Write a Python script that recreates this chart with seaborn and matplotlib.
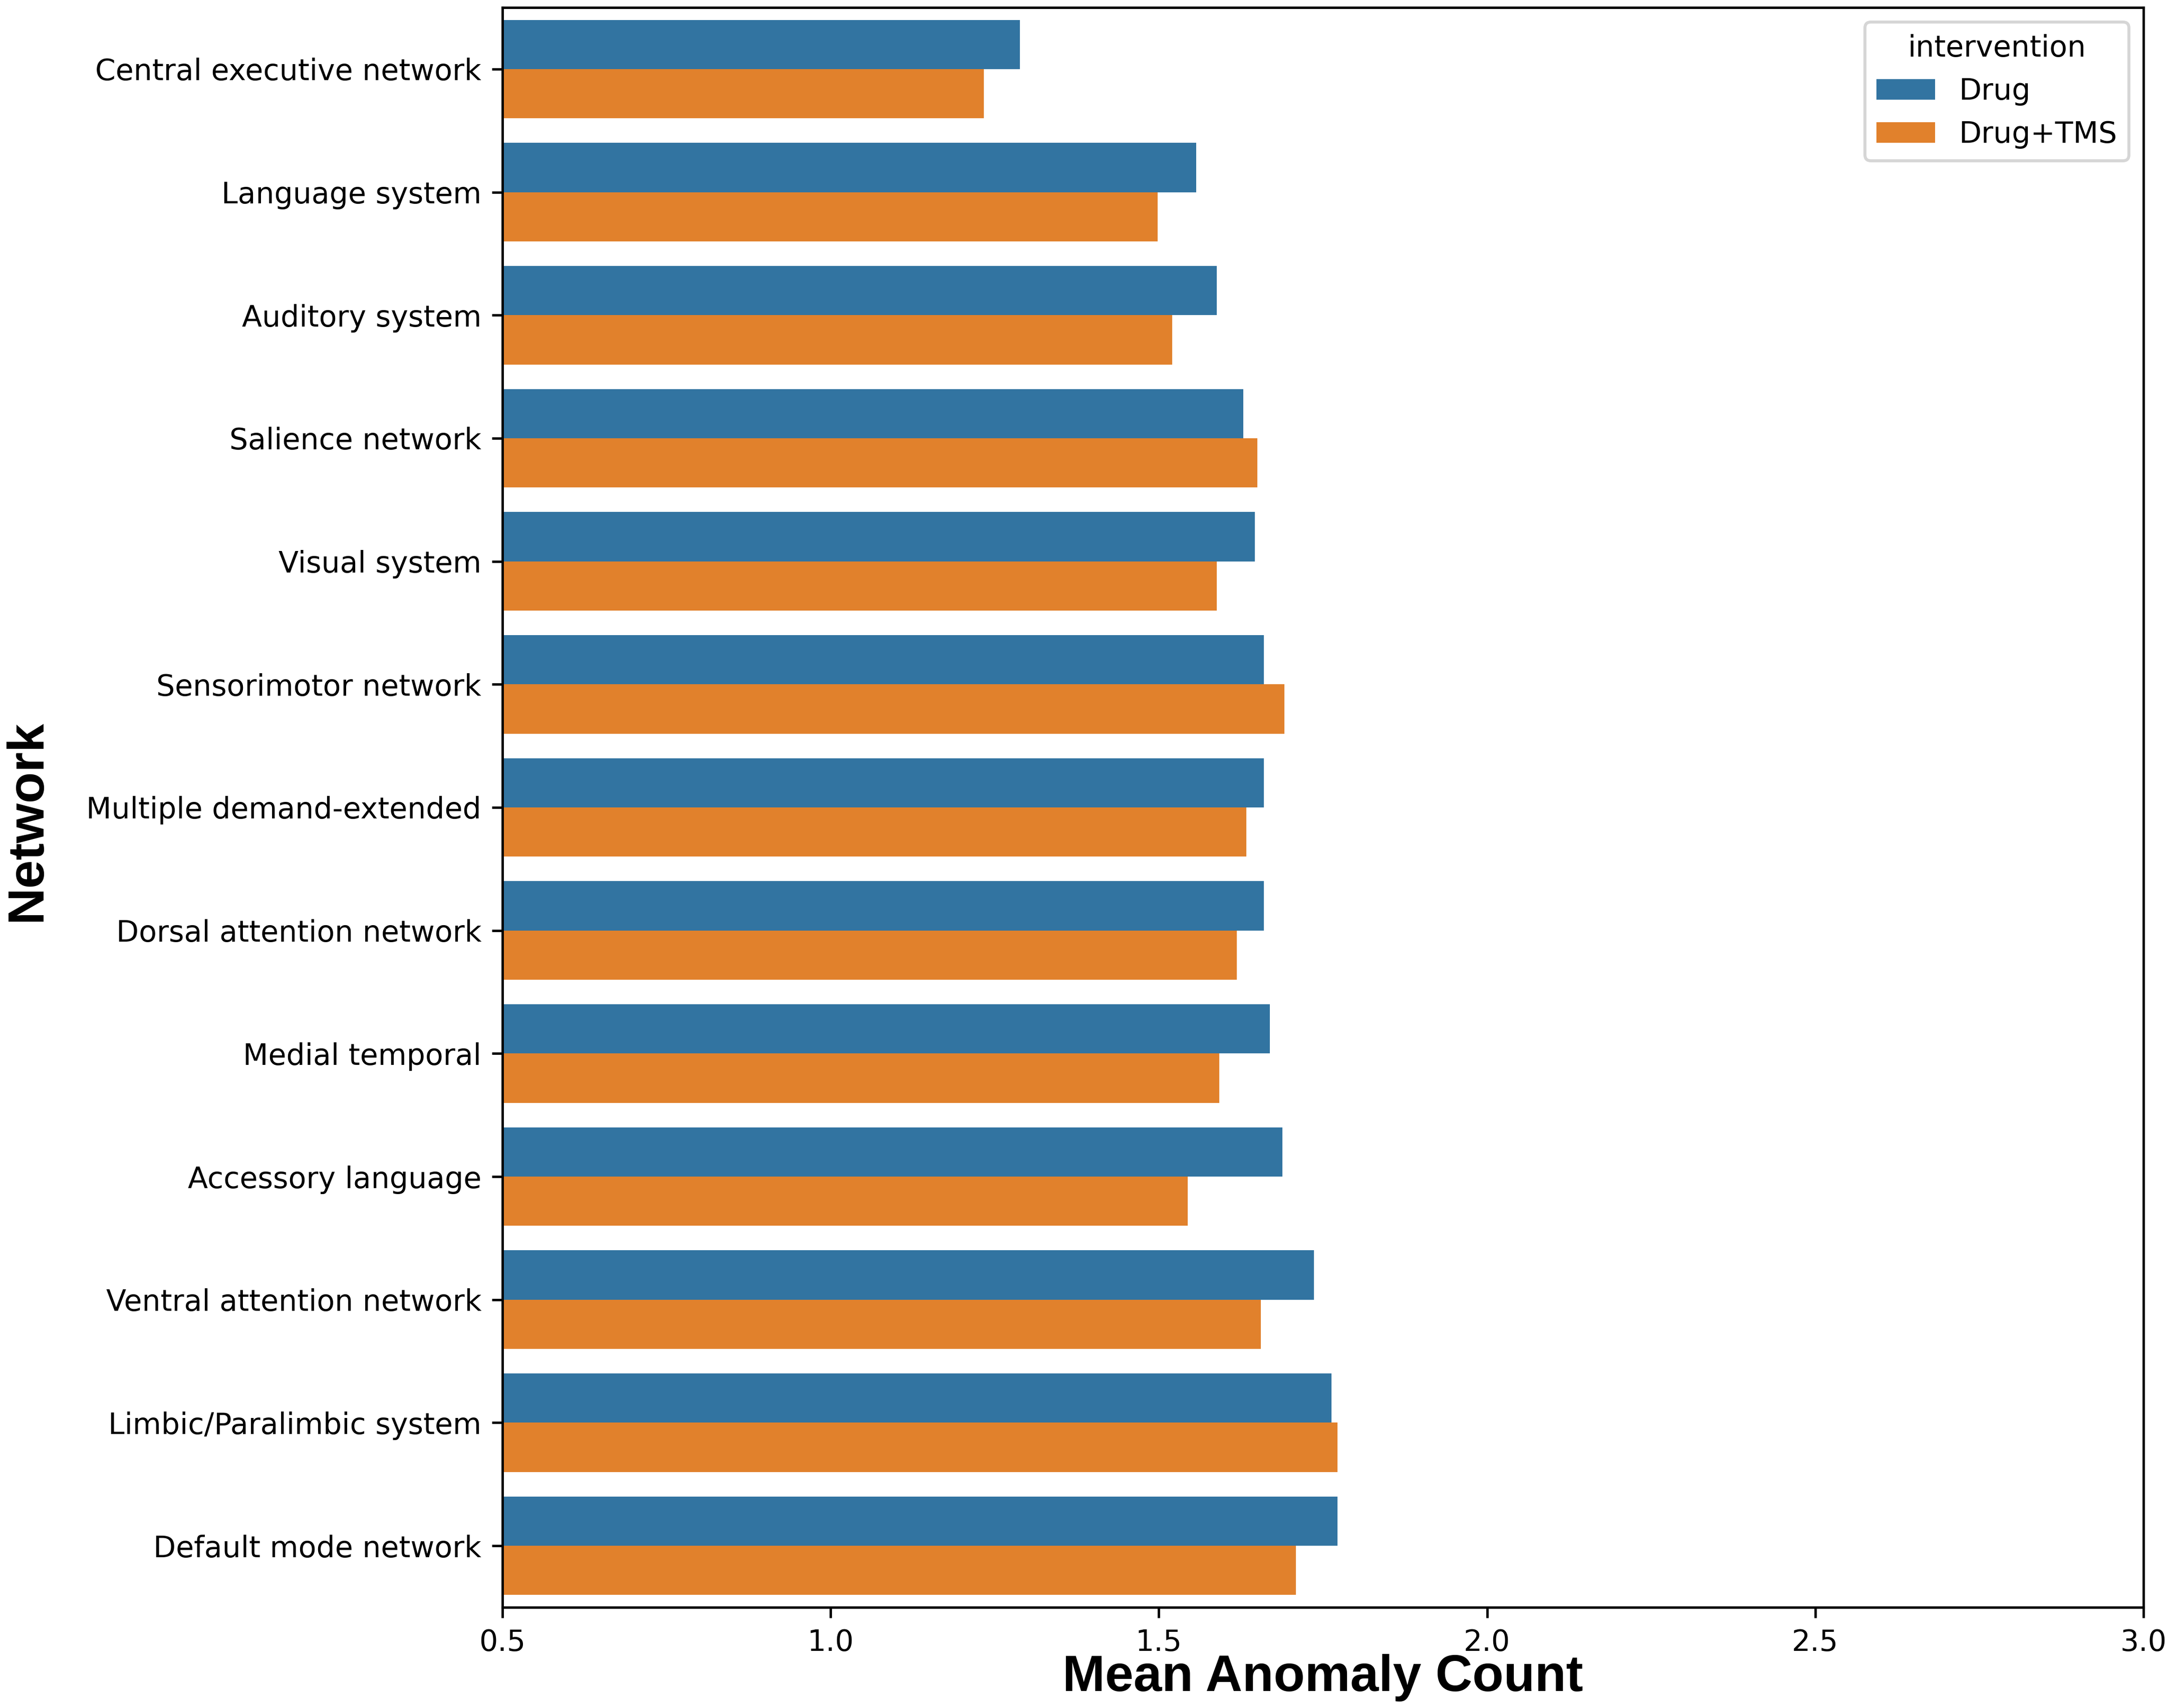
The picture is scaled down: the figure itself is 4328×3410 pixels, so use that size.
import pandas as pd
import seaborn as sns
import matplotlib
matplotlib.use('Agg')
import matplotlib.pyplot as plt

# Networks, top to bottom as shown
networks = [
    'Central executive network', 'Language system', 'Auditory system',
    'Salience network', 'Visual system', 'Sensorimotor network',
    'Multiple demand-extended', 'Dorsal attention network', 'Medial temporal',
    'Accessory language', 'Ventral attention network',
    'Limbic/Paralimbic system', 'Default mode network',
]
interventions = ['Drug', 'Drug+TMS']

# Mean anomaly count per network
drug = [1.288, 1.557, 1.588, 1.629, 1.646, 1.660, 1.660, 1.660, 1.669,
        1.688, 1.736, 1.763, 1.772]
drug_tms = [1.233, 1.498, 1.520, 1.650, 1.588, 1.691, 1.633, 1.619, 1.592,
            1.544, 1.655, 1.772, 1.709]

# Long-form table for seaborn
df = pd.DataFrame({
    'Network': networks * 2,
    'intervention': [interventions[0]] * len(networks) + [interventions[1]] * len(networks),
    'Mean Anomaly Count': drug + drug_tms,
})

plt.rcParams['font.size'] = 9.75

dpi = 432
fig, ax = plt.subplots(figsize=(4328 / dpi, 3410 / dpi), dpi=dpi)
fig.subplots_adjust(left=1003 / 4328, right=4279 / 4328,
                    top=1 - 15 / 3410, bottom=1 - 3209 / 3410)

sns.barplot(data=df, x='Mean Anomaly Count', y='Network', hue='intervention',
            order=networks, hue_order=interventions, errorbar=None,
            orient='h', ax=ax)

ax.set_xlim(0.5, 3.0)
sns.move_legend(ax, 'upper right')

label_font = dict(family='Liberation Sans', weight='bold', size=17)
ax.set_xlabel('Mean Anomaly Count', **label_font)
ax.set_ylabel('Network', **label_font)
ax.xaxis.set_label_coords(0.5, -0.029)
ax.yaxis.set_label_coords(-0.275, 0.4915)

fig.savefig('out.png', dpi=dpi)
